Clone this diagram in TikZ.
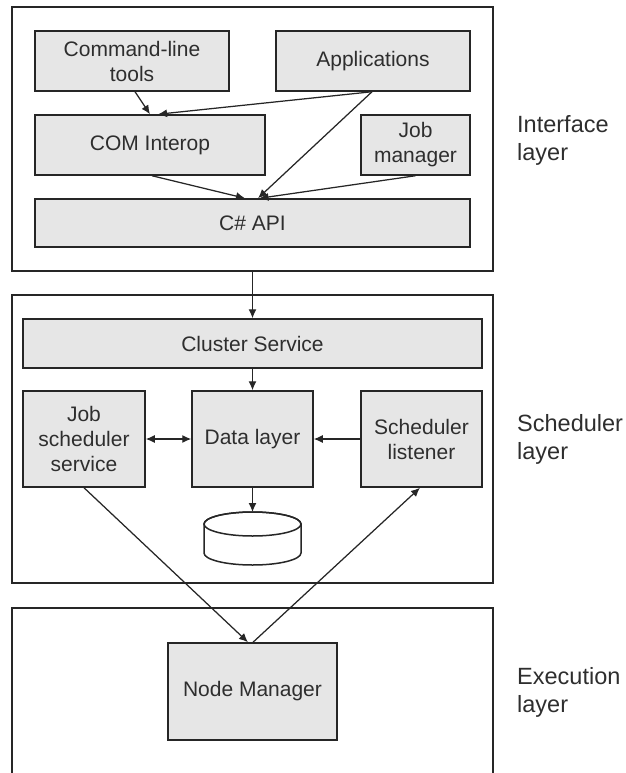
\documentclass[tikz,border=0pt]{standalone}
\usepackage{fontspec}
\setmainfont{Liberation Sans}
\usetikzlibrary{arrows.meta}
\definecolor{boxfill}{HTML}{E6E6E6}
\definecolor{edge}{HTML}{262626}
\definecolor{ink}{HTML}{2E2E2E}

\begin{document}
\begin{tikzpicture}[x=1pt,y=-1pt,
  panel/.style={draw=edge, line width=1.7pt, inner sep=0pt},
  box/.style={draw=edge, fill=boxfill, line width=1.5pt, inner sep=0pt,
    align=center, text=ink, font=\fontsize{21}{25}\selectfont},
  layerlabel/.style={anchor=west, align=left, inner sep=0pt, text=ink,
    font=\fontsize{23.5}{28}\selectfont},
  link/.style={draw=edge, line width=1.25pt, -{Latex[length=9pt,width=8pt]}},
  biglink/.style={draw=edge, line width=1.25pt,
    {Latex[length=9pt,width=8pt]}-{Latex[length=9pt,width=8pt]}},
]
\useasboundingbox (0,0) rectangle (625,773);

% layer frames
\node[panel, minimum width=481pt, minimum height=264pt] (ipanel) at (252.5,139) {};
\node[panel, minimum width=481pt, minimum height=288pt] (spanel) at (252.5,439) {};
\draw[edge, line width=1.7pt] (12,790) -- (12,608) -- (493,608) -- (493,790);

% interface layer
\node[box, minimum width=194pt, minimum height=60pt] (cmd) at (132,61) {Command-line\\tools};
\node[box, minimum width=194pt, minimum height=60pt] (apps) at (373,61) {Applications};
\node[box, minimum width=230pt, minimum height=60pt] (com) at (150,145) {COM Interop};
\node[box, minimum width=109pt, minimum height=60pt] (jobmgr) at (415.5,145) {Job\\manager};
\node[box, minimum width=435pt, minimum height=48pt] (api) at (252.5,223) {C\# API};

% scheduler layer
\node[box, minimum width=459pt, minimum height=49pt] (cluster) at (252.5,343.5) {Cluster Service};
\node[box, minimum width=122pt, minimum height=96pt] (jss) at (84,439) {Job\\scheduler\\service};
\node[box, minimum width=121pt, minimum height=96pt] (data) at (252.5,439) {Data layer};
\node[box, minimum width=121pt, minimum height=96pt] (listener) at (421.5,439) {Scheduler\\listener};

% database cylinder
\coordinate (dbtop) at (252.5,512);
\filldraw[draw=edge, fill=white, line width=1.5pt]
  (204,524) -- (204,553) arc[start angle=180, end angle=0, x radius=48.5, y radius=12]
  -- (301,524) arc[start angle=0, end angle=-180, x radius=48.5, y radius=12] -- cycle;
\draw[edge, line width=1.5pt] (252.5,524) ellipse[x radius=48.5, y radius=12];

% execution layer
\node[box, minimum width=169pt, minimum height=97pt] (nodemgr) at (252.5,691.5) {Node Manager};

% layer labels
\node[layerlabel] (lint) at (517,140) {Interface\\layer};
\node[layerlabel] (lsch) at (517,439) {Scheduler\\layer};
\node[layerlabel] (lexe) at (517,692) {Execution\\layer};

% connectors
\draw[link] ([xshift=3pt]cmd.south) -- (com.north);
\draw[link] ([xshift=-1pt]apps.south) -- ([xshift=8pt]com.north);
\draw[link] ([xshift=2pt]com.south) -- ([xshift=-7.5pt]api.north);
\draw[link] ([xshift=-1pt]apps.south) -- ([xshift=5.5pt]api.north);
\draw[link] (jobmgr.south) -- ([xshift=7pt]api.north);
\draw[link] (ipanel.south) -- (cluster.north);
\draw[link] (cluster.south) -- (data.north);
\draw[biglink] (jss.east) -- (data.west);
\draw[link] (listener.west) -- (data.east);
\draw[link] (data.south) -- (dbtop);
\draw[link] (jss.south) -- ([xshift=-4.5pt]nodemgr.north);
\draw[link] ([xshift=0.5pt]nodemgr.north) -- ([xshift=-1.5pt]listener.south);
\end{tikzpicture}
\end{document}
